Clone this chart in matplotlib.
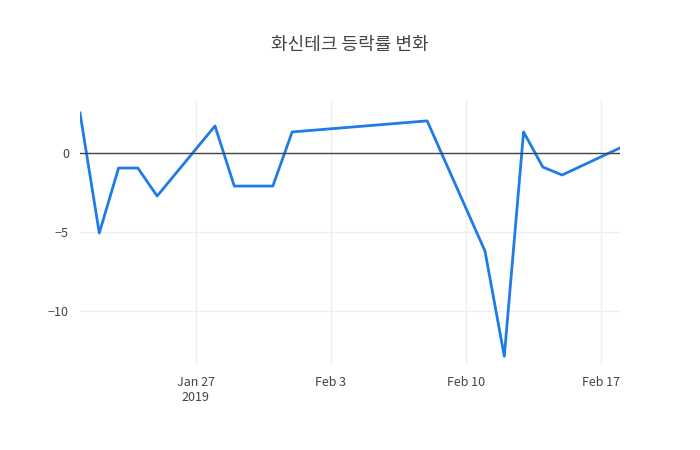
import matplotlib
matplotlib.use('Agg')
import matplotlib.pyplot as plt
import matplotlib.dates as mdates
import pandas as pd

dates = ['2019-01-21','2019-01-22','2019-01-23','2019-01-24','2019-01-25','2019-01-28',
         '2019-01-29','2019-01-31','2019-02-01','2019-02-08','2019-02-11','2019-02-12',
         '2019-02-13','2019-02-14','2019-02-15','2019-02-18']
values = [2.53,-5.06,-0.95,-0.95,-2.72,1.71,-2.09,-2.09,1.33,2.03,-6.2,-12.85,1.33,-0.89,-1.39,0.32]
title = '화신테크 등락률 변화'

plt.rcParams['font.family'] = ['Noto Sans CJK KR', 'DejaVu Sans']
x = pd.to_datetime(dates)
fig = plt.figure(figsize=(7, 4.5), dpi=100)
ax = fig.add_axes([80/700, 85/450, 540/700, 265/450])
ax.plot(x, values, color='#1f7be6', lw=2)
ax.axhline(0, color='#444', lw=1)
ax.set_xlim(x[0], x[-1])
ax.set_ylim(-13.4, 3.35)
ax.set_yticks([-10, -5, 0])
ax.set_yticklabels(['−10', '−5', '0'])
ticks = pd.to_datetime(['2019-01-27','2019-02-03','2019-02-10','2019-02-17'])
ax.set_xticks(ticks)
ax.set_xticklabels(['Jan 27\n2019', 'Feb 3', 'Feb 10', 'Feb 17'])
ax.grid(True, color='#eeeeee', lw=1)
ax.set_axisbelow(True)
for s in ax.spines.values():
    s.set_visible(False)
ax.tick_params(length=0, colors='#444444', labelsize=9, pad=8)
fig.text(0.5, 1 - 45/450, title, ha='center', va='center', fontsize=13, color='#444444')
fig.savefig('out.png')
